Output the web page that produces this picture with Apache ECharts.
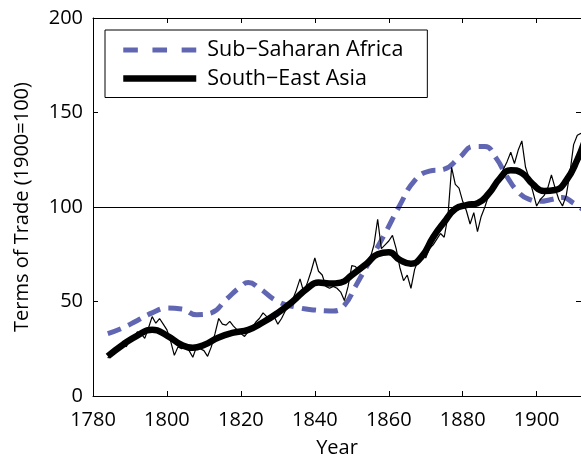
<!DOCTYPE html>
<html>
<head>
<meta charset="utf-8">
<script src="https://cdn.jsdelivr.net/npm/echarts@6/dist/echarts.min.js"></script>
<style>
html,body{margin:0;padding:0;background:#fff;}
#chart{width:581px;height:457px;}
</style>
</head>
<body>
<div id="chart"></div>
<script>
// ---- data ----
var africaYears = [1784,1788,1792,1796,1800,1804,1808,1812,1816,1820,1822,1825,1830,1835,1840,1845,1848,1851,1855,1859,1863,1867,1871,1875,1879,1883,1886,1889,1892,1895,1898,1901,1904,1907,1910,1913];
var africaValues = [33,36,40,44,46.5,46,43,44,51,58,60,57,50,47,45.5,45,48,58,72,86,101,114,119,120,126,132,132,126,116,108,104,103,104,105,102,98];

var asiaSmoothYears = [1784,1788,1792,1796,1800,1804,1807,1810,1814,1818,1822,1826,1830,1834,1838,1841,1844,1847,1850,1854,1857,1860,1863,1866,1869,1872,1875,1878,1881,1884,1887,1890,1893,1896,1899,1902,1905,1908,1911,1913];
var asiaSmoothValues = [21,27,32,35,32,27,25.5,27,31,33.5,35,39,44,50,57,60,59.5,60,64,70,75,76,72,70,74,84,92,99,101,102,107,115,119.5,118,112,108.5,109,114,125,135];

var asiaRawStartYear = 1784;
var asiaRawValues = [
 20,23,25,27,28,26,30,31,34,33,
 30.5,36,42,38.5,41,38,35,29,21.5,26,
 25,27,24,20.5,26,25,24,21,26,33,
 41,38,37.5,39.5,37,35,33,31.5,34,36,
 39,41,44,42,40,42,38,41,45,48,
 51,56,62,55,60,66,73,66,64,58,
 57,58,57,55,50.5,58,69,68.5,66,67,
 70,73,80,93.5,78,80,82,85,78,68,
 61,64,57,67,72,76,73,78,80,83,
 86,84,95,121,112,110,103,98,91,97,
 87,95,100,106,108,112,116,120,124,129,
 123,130,135,121,115,108,100.5,104,106,110,
 117,110,104,100.5,106,118,133,138,139
];

var xTicks = {min:1780, max:1912, interval:20};
var yTicks = {min:0, max:200, interval:50};
var refLine = 100;

var seriesNames = ['Sub\u2212Saharan Africa','South\u2212East Asia','South\u2212East Asia (annual)'];

// ---- build ----
function pairs(xs, ys){ var out=[]; for(var i=0;i<xs.length;i++) out.push([xs[i], ys[i]]); return out; }
var rawData = [];
for (var i=0;i<asiaRawValues.length;i++) rawData.push([asiaRawStartYear+i, asiaRawValues[i]]);

var FONT = 'Open Sans';
var AFRICA_COLOR = '#6166b3';
var HIDE = {color:'rgba(0,0,0,0)', opacity:0, borderWidth:0};
var DASH_ICON = 'path://M0,0h14v5h-14zM28,0h14v5h-14zM56,0h14v5h-14z';

var chart = echarts.init(document.getElementById('chart'), null, {renderer:'canvas'});
var axisCommon = {
  axisLine:{show:true, onZero:false, lineStyle:{color:'#000', width:1}},
  axisTick:{show:true, inside:true, length:5, lineStyle:{color:'#000', width:1}},
  splitLine:{show:false}
};
chart.setOption({
  animation:false,
  textStyle:{fontFamily:FONT},
  grid:{left:93, right:0, top:18, bottom:61, containLabel:false, outerBoundsMode:'none'},
  legend:{
    data:[
      {name:seriesNames[0], icon:DASH_ICON, itemStyle:{color:AFRICA_COLOR, opacity:1, borderWidth:0}},
      {name:seriesNames[1], lineStyle:{width:6.5}, itemStyle:HIDE}
    ],
    orient:'vertical', left:105, top:30,
    itemWidth:73, itemHeight:14, itemGap:6.5,
    symbolKeepAspect:true,
    padding:[9,24,8,15],
    borderColor:'#000', borderWidth:1,
    textStyle:{fontFamily:FONT, fontSize:21.5, color:'#000', padding:[0,0,0,6]}
  },
  xAxis:[
    Object.assign({type:'value', position:'bottom', min:xTicks.min, max:xTicks.max, interval:xTicks.interval,
      name:'Year', nameLocation:'middle', nameGap:42,
      nameTextStyle:{fontFamily:FONT, fontSize:20, color:'#000'},
      axisLabel:{fontFamily:FONT, fontSize:20, color:'#000', margin:14, showMaxLabel:false,
        formatter:function(v){return String(v);}}}, axisCommon),
    Object.assign({type:'value', position:'top', min:xTicks.min, max:xTicks.max, interval:xTicks.interval,
      axisLabel:{show:false}}, axisCommon)
  ],
  yAxis:[
    Object.assign({type:'value', position:'left', min:yTicks.min, max:yTicks.max, interval:yTicks.interval,
      name:'Terms of Trade (1900=100)', nameLocation:'middle', nameGap:61,
      nameTextStyle:{fontFamily:FONT, fontSize:20, color:'#000'},
      axisLabel:{fontFamily:FONT, fontSize:20, color:'#000', margin:10}}, axisCommon),
    Object.assign({type:'value', position:'right', min:yTicks.min, max:yTicks.max, interval:yTicks.interval,
      axisLabel:{show:false}}, axisCommon)
  ],
  series:[
    {name:seriesNames[0], type:'line', data:pairs(africaYears, africaValues), smooth:0.5, showSymbol:false, symbol:'none',
      lineStyle:{color:AFRICA_COLOR, width:5, type:[14,8]}, itemStyle:{color:AFRICA_COLOR}, z:2},
    {name:seriesNames[2], type:'line', data:rawData, showSymbol:false, symbol:'none',
      lineStyle:{color:'#000', width:1.2}, itemStyle:{color:'#000'}, z:3,
      markLine:{silent:true, symbol:'none', label:{show:false}, lineStyle:{color:'#000', width:1, type:'solid'},
        data:[{yAxis:refLine}]}},
    {name:seriesNames[1], type:'line', data:pairs(asiaSmoothYears, asiaSmoothValues), smooth:0.5, showSymbol:false, symbol:'none',
      lineStyle:{color:'#000', width:6.5}, itemStyle:{color:'#000'}, z:4}
  ]
});
</script>
</body>
</html>
